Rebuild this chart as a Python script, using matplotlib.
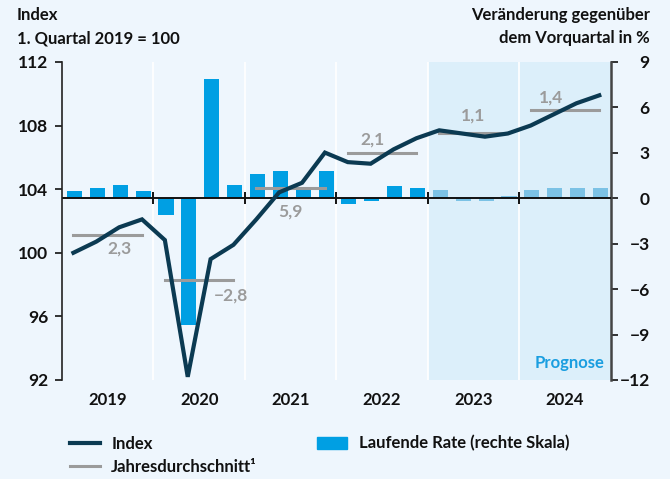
import matplotlib
matplotlib.use('Agg')
import matplotlib.pyplot as plt
from matplotlib.lines import Line2D
from matplotlib.patches import Patch
import numpy as np

plt.rcParams['font.family'] = ['Lato', 'DejaVu Sans']

# quarterly data 2019 Q1 .. 2024 Q4
years = ['2019', '2020', '2021', '2022', '2023', '2024']
index_vals = [100.0, 100.7, 101.6, 102.1,
              100.8, 92.2, 99.6, 100.5,
              102.1, 103.8, 104.4, 106.3,
              105.7, 105.6, 106.5, 107.2,
              107.7, 107.5, 107.3, 107.5,
              108.0, 108.7, 109.4, 109.9]
rate_vals = [0.5, 0.7, 0.9, 0.5,
             -1.1, -8.4, 7.9, 0.9,
             1.6, 1.8, 0.7, 1.8,
             -0.4, -0.2, 0.8, 0.7,
             0.55, -0.2, -0.2, 0.15,
             0.55, 0.7, 0.7, 0.7]
year_avg = [101.1, 98.3, 104.1, 106.3, 107.5, 109.0]
year_growth = ['2,3', '\u22122,8', '5,9', '2,1', '1,1', '1,4']
forecast_from = 16  # first forecast quarter (2023 Q1)

bg = '#eef6fd'
fc_bg = '#dceffa'
blue = '#009fe3'
light_blue = '#7cc2e5'
dark = '#0b3a52'
grey = '#9b9b9b'
fs = 12

fig = plt.figure(figsize=(6.7, 4.79), dpi=100, facecolor=bg)
ax2 = fig.add_axes([0.0925, 0.2067, 0.819, 0.664])
ax = ax2.twinx()
ax.yaxis.tick_left()
ax2.yaxis.tick_right()
ax.set_zorder(ax2.get_zorder() + 1)
ax.patch.set_visible(False)
ax2.set_facecolor(bg)

x = np.arange(len(index_vals))
n_years = len(years)
ax2.set_xlim(-0.5, len(x) - 0.5)
ax2.axvspan(forecast_from - 0.5, len(x) - 0.5, color=fc_bg, zorder=0, lw=0)
for b in range(1, n_years):
    ax2.axvline(b * 4 - 0.5, color='white', lw=1.2, zorder=1)

cols = [blue if i < forecast_from else light_blue for i in x]
ax2.bar(x + 0.05, rate_vals, width=0.66, color=cols, zorder=2)
ax2.axhline(0, color='#111111', lw=1.4, zorder=3)
ax2.plot([b * 4 - 0.5 for b in range(1, n_years)], [0] * (n_years - 1), ls='none',
         marker='|', ms=9, mew=1.4, color='#111111', zorder=3)
ax2.set_ylim(-12, 9)
rticks = [-12, -9, -6, -3, 0, 3, 6, 9]
ax2.set_yticks(rticks)
ax2.set_yticklabels([('\u2212' + str(-t)) if t < 0 else str(t) for t in rticks])

ax.plot(x, index_vals, color=dark, lw=3, solid_joinstyle='miter', zorder=5)
ax.set_ylim(92, 112)
ax.set_yticks([92, 96, 100, 104, 108, 112])

# yearly averages with growth labels
label_offsets = [(0.5, -0.85), (1.4, -1.0), (0, -1.5),
                 (-0.4, 0.8), (0, 1.1), (-0.6, 0.75)]
for k in range(n_years):
    x0, x1 = k * 4, k * 4 + 3
    ax.plot([x0, x1], [year_avg[k], year_avg[k]], color=grey, lw=2.2, zorder=4)
    dx, dy = label_offsets[k]
    ax.text((x0 + x1) / 2 + dx, year_avg[k] + dy, year_growth[k], color=grey,
            fontsize=12.5, fontweight='bold', ha='center', va='center', zorder=6)

for a in (ax, ax2):
    for s in ['top', 'bottom']:
        a.spines[s].set_visible(False)
    a.tick_params(axis='x', bottom=False, labelbottom=False)
ax.spines['right'].set_visible(False)
ax.spines['left'].set_color('#222222')
ax.spines['left'].set_linewidth(1.2)
ax2.spines['left'].set_visible(False)
ax2.spines['right'].set_color('#444444')
ax2.spines['right'].set_linewidth(1.8)
ax.tick_params(axis='y', length=5, width=1.2, labelsize=12.5, pad=5, colors='#111111')
ax2.tick_params(axis='y', length=5, width=1.2, labelsize=12.5, pad=23, colors='#111111')
for lab in ax.get_yticklabels() + ax2.get_yticklabels():
    lab.set_fontweight('bold')
for lab in ax2.get_yticklabels():
    lab.set_horizontalalignment('right')

for k, yr in enumerate(years):
    ax2.text(k * 4 + 1.5, -13.3, yr, ha='center', va='center', fontsize=fs,
             fontweight='bold', color='#111111')

ax2.text(len(x) - 0.75, -10.9, 'Prognose', ha='right', va='center', fontsize=fs,
         fontweight='bold', color='#1a9ee0', zorder=6)

fig.text(0.025, 0.968, 'Index', fontsize=fs, fontweight='bold', va='center', color='#111111')
fig.text(0.025, 0.92, '1. Quartal 2019 = 100', fontsize=fs, fontweight='bold', va='center', color='#111111')
fig.text(0.97, 0.968, 'Veränderung gegenüber', fontsize=fs, fontweight='bold', va='center', ha='right', color='#111111')
fig.text(0.97, 0.92, 'dem Vorquartal in %', fontsize=fs, fontweight='bold', va='center', ha='right', color='#111111')

handles = [Line2D([], [], color=dark, lw=3),
           Line2D([], [], color=grey, lw=2.2),
           Patch(color=blue)]
labels = ['Index', 'Jahresdurchschnitt\u00b9', 'Laufende Rate (rechte Skala)']
leg = fig.legend(handles, labels, ncol=2, loc='upper left', bbox_to_anchor=(0.104, 0.091),
                 frameon=False, fontsize=fs, handlelength=1.8, handletextpad=0.7,
                 columnspacing=3.6, labelspacing=0.42, borderaxespad=0, borderpad=0)
for t in leg.get_texts():
    t.set_fontweight('bold')
    t.set_color('#111111')

fig.savefig('out.png', dpi=100, facecolor=bg)
